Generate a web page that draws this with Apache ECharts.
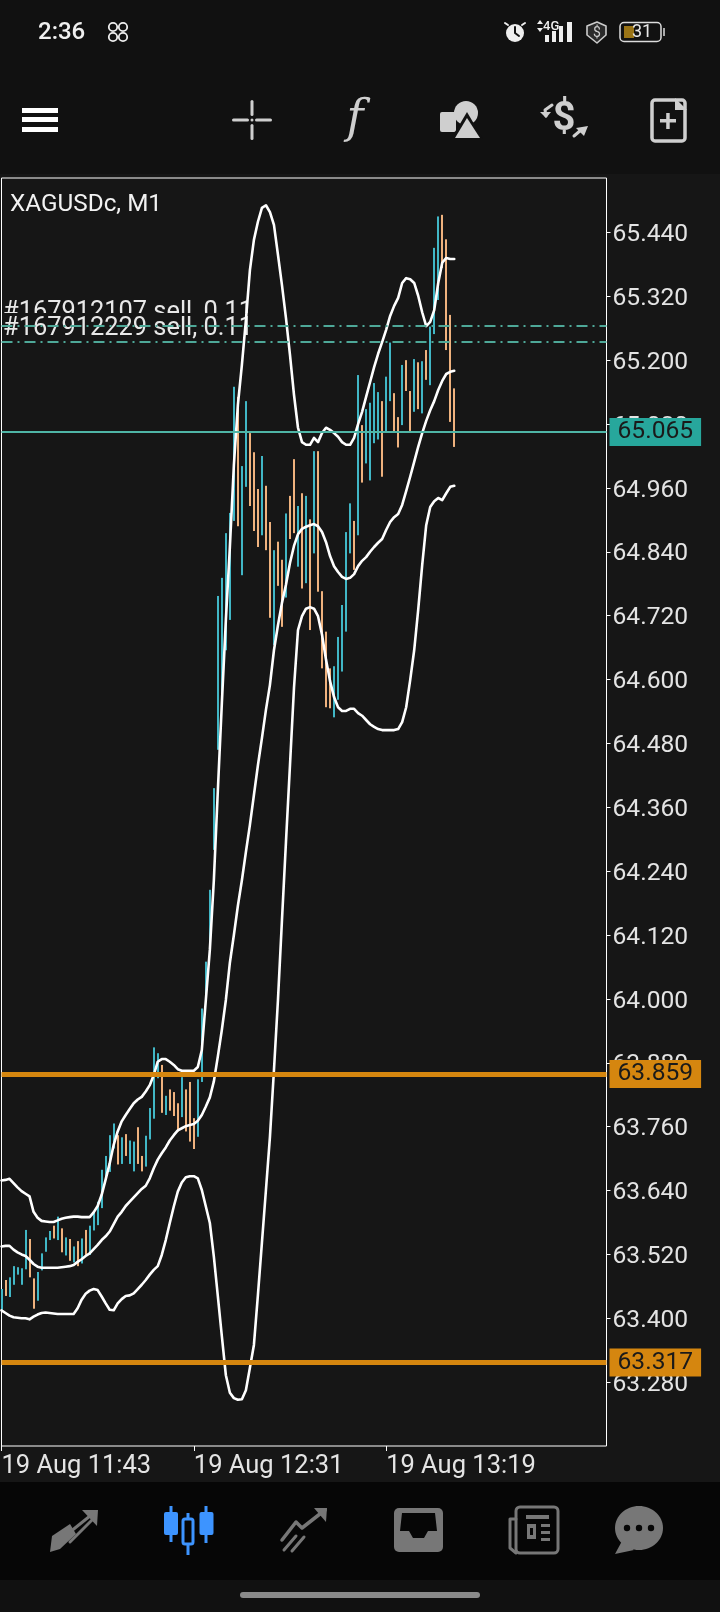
<!DOCTYPE html>
<html><head><meta charset="utf-8">
<style>html,body{margin:0;padding:0;background:#111}#c{width:720px;height:1612px}</style>
<script src="https://cdn.jsdelivr.net/npm/echarts@6/dist/echarts.min.js"></script>
</head><body><div id="c"></div>
<script>
const symbolName = 'XAGUSDc, M1';
const timeTicks = ['19 Aug 11:43', '19 Aug 12:31', '19 Aug 13:19'];
const priceTicks = [65.44,65.32,65.2,65.08,64.96,64.84,64.72,64.6,64.48,64.36,64.24,64.12,64,63.88,63.76,63.64,63.52,63.4,63.28];
const barHigh = [63.455,63.472,63.477,63.498,63.496,63.494,63.566,63.549,63.475,63.487,63.522,63.552,63.564,63.574,63.591,63.569,63.552,63.549,63.535,63.545,63.55,63.566,63.574,63.6,63.619,63.679,63.705,63.744,63.766,63.744,63.74,63.746,63.734,63.732,63.759,63.705,63.743,63.795,63.909,63.898,63.876,63.818,63.83,63.825,63.804,63.853,63.83,63.844,63.776,63.849,63.982,64.07,64.205,64.396,64.757,64.791,64.875,64.913,65.15,65.131,65.001,65.123,65.063,65.027,64.958,65.02,64.964,64.896,64.843,64.859,64.825,64.912,64.945,65.014,64.926,64.95,64.945,64.901,65.029,65.029,64.766,64.69,64.621,64.625,64.68,64.74,64.877,64.931,64.898,65.172,65.078,65.108,65.12,65.157,65.14,65.123,65.169,65.233,65.138,65.093,65.191,65.2,65.142,65.202,65.196,65.198,65.219,65.263,65.411,65.47,65.473,65.427,65.285,65.147];
const barLow = [63.416,63.442,63.44,63.463,63.482,63.463,63.492,63.477,63.418,63.433,63.49,63.525,63.547,63.55,63.547,63.524,63.518,63.508,63.505,63.498,63.503,63.518,63.519,63.565,63.575,63.607,63.66,63.675,63.719,63.689,63.69,63.705,63.69,63.676,63.69,63.676,63.685,63.736,63.775,63.851,63.786,63.782,63.79,63.78,63.751,63.778,63.751,63.732,63.718,63.741,63.844,63.998,64.092,64.28,64.468,64.567,64.655,64.712,64.898,64.888,64.796,64.962,64.926,64.879,64.849,64.871,64.843,64.716,64.665,64.776,64.699,64.754,64.864,64.875,64.812,64.771,64.781,64.693,64.837,64.765,64.621,64.548,64.546,64.529,64.562,64.615,64.69,64.837,64.806,64.871,64.97,65.006,64.974,65.044,65.051,64.981,65.066,65.123,65.066,65.036,65.078,65.142,65.067,65.103,65.108,65.1,65.163,65.153,65.249,65.313,65.373,65.219,65.084,65.037];
const fallingBars = [1,7,8,13,15,17,19,21,29,31,34,35,40,42,43,44,46,47,48,59,62,63,64,66,67,69,70,72,73,75,77,79,80,81,82,88,90,95,98,99,101,102,104,106,110,111,112,113];
const bandUpper = [63.659,63.66,63.662,63.654,63.646,63.639,63.634,63.629,63.6,63.589,63.583,63.582,63.581,63.581,63.584,63.587,63.589,63.59,63.591,63.591,63.59,63.59,63.59,63.599,63.611,63.632,63.661,63.691,63.726,63.751,63.77,63.782,63.793,63.804,63.811,63.816,63.826,63.838,63.857,63.882,63.887,63.887,63.882,63.876,63.868,63.865,63.865,63.865,63.865,63.872,63.904,63.998,64.092,64.223,64.392,64.556,64.712,64.849,65.003,65.116,65.191,65.275,65.369,65.426,65.46,65.486,65.491,65.478,65.454,65.398,65.341,65.279,65.21,65.135,65.073,65.046,65.041,65.041,65.054,65.046,65.063,65.073,65.069,65.063,65.056,65.046,65.041,65.041,65.054,65.08,65.103,65.131,65.159,65.187,65.212,65.234,65.257,65.283,65.302,65.317,65.345,65.354,65.352,65.345,65.321,65.29,65.264,65.272,65.294,65.345,65.383,65.392,65.39,65.39];
const bandMiddle = [63.535,63.536,63.536,63.529,63.524,63.52,63.517,63.51,63.502,63.497,63.495,63.495,63.495,63.495,63.495,63.496,63.497,63.498,63.5,63.506,63.511,63.517,63.522,63.53,63.538,63.547,63.554,63.563,63.577,63.591,63.6,63.611,63.619,63.627,63.635,63.643,63.649,63.663,63.682,63.698,63.71,63.721,63.734,63.744,63.753,63.757,63.761,63.763,63.765,63.771,63.782,63.798,63.815,63.845,63.892,63.942,63.998,64.068,64.12,64.175,64.223,64.276,64.327,64.383,64.439,64.49,64.543,64.59,64.655,64.702,64.744,64.778,64.819,64.851,64.873,64.883,64.887,64.89,64.892,64.888,64.877,64.858,64.832,64.813,64.802,64.793,64.789,64.791,64.798,64.813,64.823,64.83,64.84,64.849,64.857,64.864,64.881,64.896,64.905,64.911,64.928,64.954,64.981,65.009,65.037,65.063,65.086,65.106,65.123,65.144,65.161,65.174,65.178,65.18];
const bandLower = [63.415,63.41,63.405,63.402,63.401,63.4,63.4,63.398,63.403,63.407,63.41,63.411,63.41,63.409,63.408,63.408,63.408,63.408,63.408,63.419,63.435,63.446,63.452,63.455,63.453,63.441,63.428,63.416,63.415,63.428,63.436,63.442,63.443,63.447,63.455,63.463,63.472,63.482,63.491,63.498,63.519,63.547,63.579,63.61,63.638,63.655,63.665,63.667,63.667,63.663,63.641,63.61,63.579,63.516,63.441,63.366,63.293,63.26,63.25,63.247,63.248,63.265,63.307,63.35,63.444,63.542,63.641,63.741,63.866,63.998,64.148,64.295,64.439,64.584,64.693,64.719,64.733,64.736,64.733,64.719,64.684,64.637,64.597,64.567,64.548,64.541,64.541,64.545,64.545,64.537,64.532,64.524,64.516,64.511,64.507,64.505,64.505,64.505,64.505,64.507,64.52,64.548,64.599,64.655,64.731,64.815,64.89,64.924,64.935,64.941,64.937,64.95,64.962,64.964];
const orderLevels = [65.2646, 65.234];
const orderNames = ['#167912107 sell, 0.11', '#167912229 sell, 0.11'];
const bidPrice = 65.065;
const alertLevels = [63.859, 63.317];

const TEAL = '#41b7c6', PEACH = '#efb27e', TAG = '#27a79c', ORANGE = '#d5860f', ICON = '#cfcfcf', NAV = '#777777';

const slots = 152;
const categories = [];
for (let i = 0; i < slots; i++) categories.push(i % 48 === 0 && timeTicks[i / 48] ? timeTicks[i / 48] : 'm' + i);
const showTick = (idx) => idx % 48 === 0 && idx <= 96;
const fallSet = new Set(fallingBars);
const barRows = barHigh.map((h, i) => [i, barLow[i], h, fallSet.has(i) ? 1 : 0]);

const renderBar = (params, api) => {
  const top = api.coord([api.value(0), api.value(2)]);
  const bottom = api.coord([api.value(0), api.value(1)]);
  const size = api.size([1, 0])[0] / 2;
  const left = Math.round(top[0]) - size / 2 * 1;
  return {type:'rect', shape:{x:left, y:top[1], width:size, height:bottom[1]-top[1]},
    style:{fill: api.value(3) ? PEACH : TEAL}};
};

const bandSeries = (d, name) => ({type:'line', name, data:d, showSymbol:false, symbol:'none', z:4, silent:true,
  lineStyle:{color:'#fff', width:2.6, cap:'round', join:'round'}, clip:true});

const g = [];
const rect = (x,y,w,h,fill,z=-5,r=0) => g.push({type:'rect', silent:true, z, shape:{x,y,width:w,height:h,r}, style:{fill}});
const txt = (x,y,text,size,fill,extra={},z=20) => g.push({type:'text', silent:true, z, x, y, style:Object.assign({text, fill, fontSize:size, fontFamily:'Roboto', textVerticalAlign:'middle', textAlign:'left'}, extra)});
const poly = (pts,fill,z=20) => g.push({type:'polygon', silent:true, z, shape:{points:pts}, style:{fill}});
const pline = (pts,stroke,w,z=20) => g.push({type:'polyline', silent:true, z, shape:{points:pts}, style:{stroke, lineWidth:w, fill:'none', lineCap:'round', lineJoin:'round'}});
const circ = (cx,cy,r,style,z=20) => g.push({type:'circle', silent:true, z, shape:{cx,cy,r}, style});

// surfaces
rect(0,174,720,1308,'#161616',-10);
rect(0,1482,720,98,'#060606',-10);
rect(240,1592,240,6,'#8a8a8a',20,3);

// status bar
txt(38,33,'2:36',24,'#f0f0f0',{fontWeight:500});
for (const [dx,dy] of [[-5,-5],[5,-5],[-5,5],[5,5]]) circ(118+dx,32+dy,4.2,{fill:'none',stroke:'#eee',lineWidth:1.8});
circ(515,33,9,{fill:'#eee'}); pline([[515,27],[515,33],[519,36]],'#111',2);
pline([[505,23],[508,25]],'#eee',2); pline([[525,23],[522,25]],'#eee',2);
txt(543,27,'4G',13,'#eee',{fontWeight:500}); poly([[537,24],[540,20],[543,24]],'#eee'); poly([[537,28],[540,32],[543,28]],'#eee');
rect(545,35,4,7,'#eee',20); rect(552,31,4,11,'#eee',20); rect(559,26,4,16,'#eee',20); rect(567,22,5,20,'#eee',20);
poly([[597,22],[606,26],[606,35],[597,43],[587,35],[587,26]],'#2a2a2a');
pline([[597,22],[606,26],[606,35],[597,43],[587,35],[587,26],[597,22]],'#ccc',1.6);
txt(597,33,'$',14,'#ccc',{textAlign:'center'});
g.push({type:'rect',silent:true,z:20,shape:{x:620,y:22.5,width:41,height:19,r:4},style:{fill:'none',stroke:'#ddd',lineWidth:1.5}});
rect(624,26,10,12,'#9a7416',20); rect(663,28,2,8,'#aaa',20);
txt(632,32.5,'31',18,'#e8e8e8');

// toolbar
rect(22,108,36,5,'#fff',20); rect(22,117,36,5,'#fff',20); rect(22,127,36,5,'#fff',20);
rect(232,118.5,17,3,ICON,20,1.5); rect(255,118.5,17,3,ICON,20,1.5); rect(250.5,100,3,16,ICON,20,1.5); rect(250.5,124,3,16,ICON,20,1.5); circ(252,120,1.5,{fill:ICON});
txt(355,120,'f',46,ICON,{fontFamily:'DejaVu Serif',fontStyle:'italic',textAlign:'center'});
rect(440,112,16,20,ICON,20,2); circ(466,113,12,{fill:ICON});
poly([[467,112],[483,139],[451,139]],'#111',21); poly([[467,118],[480,138],[455,138]],ICON,22);
txt(564,120,'$',40,ICON,{textAlign:'center',fontWeight:700});
pline([[552,105],[545,110],[546,116]],ICON,3); poly([[540,112],[551,112],[546,118]],ICON);
pline([[574,136],[581,130]],ICON,3); poly([[576,128],[588,126],[584,136]],ICON);
g.push({type:'rect',silent:true,z:20,shape:{x:652,y:100,width:33,height:41,r:3},style:{fill:'none',stroke:ICON,lineWidth:3.5}});
poly([[675,98],[687,110],[675,110]],ICON); rect(660,119,16,3.5,ICON,20); rect(666.2,113,3.5,16,ICON,20);

// bottom nav
pline([[70,1532],[95,1512]],NAV,3); poly([[82,1510],[98,1510],[97,1526]],NAV);
poly([[50,1552],[52,1536],[70,1524],[76,1534],[60,1549]],NAV); pline([[70,1542],[94,1518]],NAV,3);
const BLUE = '#3d94ff';
rect(169.5,1506,3,36,BLUE,20); rect(164,1512,14,23,BLUE,20,2);
rect(204.5,1506,3,37,BLUE,20); rect(199.5,1512,14,23,BLUE,20,2);
rect(186.5,1513,3,42,BLUE,20);
g.push({type:'rect',silent:true,z:21,shape:{x:183,y:1519,width:10,height:25,r:2},style:{fill:'#060606',stroke:BLUE,lineWidth:3}});
pline([[282,1540],[296,1522],[302,1528],[325,1510]],NAV,3.5); poly([[314,1508],[327,1508],[326,1522]],NAV);
pline([[284,1550],[296,1536]],NAV,3); pline([[292,1551],[304,1537]],NAV,3);
g.push({type:'rect',silent:true,z:20,shape:{x:394,y:1508,width:49,height:44,r:5},style:{fill:NAV}});
poly([[402,1513],[435,1513],[437,1531],[428,1531],[424,1538],[413,1538],[409,1531],[400,1531]],'#060606',21);
g.push({type:'rect',silent:true,z:20,shape:{x:516,y:1507,width:42,height:46,r:4},style:{fill:'none',stroke:NAV,lineWidth:3}});
pline([[516,1519],[510,1519],[510,1548],[516,1553]],NAV,3);
rect(526,1515,23,4,NAV,20); rect(527,1524,9,15,NAV,20); rect(541,1524,9,3,NAV,20); rect(541,1531,9,3,NAV,20); rect(541,1538,9,3,NAV,20);
rect(530,1528,3,7,'#060606',21);
g.push({type:'ellipse',silent:true,z:20,shape:{cx:639,cy:1528,rx:24,ry:22},style:{fill:NAV}});
poly([[622,1541],[634,1550],[615,1554]],NAV);
circ(627,1528,3.2,{fill:'#060606'},21); circ(639,1528,3.2,{fill:'#060606'},21); circ(651,1528,3.2,{fill:'#060606'},21);

// chart text
txt(10,205,symbolName,24.3,'#f2f2f2',{},6);
txt(3,312.5,orderNames[0],25.4,'#e8e8e8',{},2);
rect(2,313,255,26,'#161616',2);
txt(3,328.5,orderNames[1],25.4,'#e8e8e8',{},2);

const option = {
  animation:false,
  backgroundColor:'#111111',
  textStyle:{fontFamily:'Roboto'},
  grid:{left:1.5, top:178, width:605, height:1268, show:true, outerBoundsMode:'none', backgroundColor:'#161616', borderColor:'#ffffff', borderWidth:1, z:0},
  xAxis:{type:'category', data:categories, boundaryGap:false,
    axisLine:{show:false},
    axisTick:{show:true, interval:showTick, length:5, lineStyle:{color:'#fff', width:1}},
    axisLabel:{show:true, interval:showTick, align:'left', fontSize:25.5, margin:8, color:'#e4e4e4', fontFamily:'Roboto', hideOverlap:false},
    splitLine:{show:false}},
  yAxis:{type:'value', position:'right', min:63.1601, max:65.5422, scale:true,
    axisLine:{show:false},
    axisTick:{show:true, length:4, customValues:priceTicks, lineStyle:{color:'#fff', width:1}},
    axisLabel:{show:true, customValues:priceTicks, formatter:(v)=>'{p|'+v.toFixed(3)+'}', margin:6,
      rich:{p:{fontSize:24.6, padding:[5,0,0,0], color:'#e4e4e4', fontFamily:'Roboto'}}},
    splitLine:{show:false}},
  graphic:{elements:g},
  series:[
    {type:'line', name:'orders', data:[], z:1, silent:true, symbol:'none',
      markLine:{silent:true, symbol:'none', animation:false, precision:4, label:{show:false},
        lineStyle:{color:'#4ea898', width:2, type:[11,5,2,5]},
        data:orderLevels.map(v=>({yAxis:v}))}},
    {type:'custom', name:'price', data:barRows, z:3, clip:false, silent:true, renderItem:renderBar,
      encode:{x:0, y:[1,2]}},
    bandSeries(bandUpper,'upper'), bandSeries(bandMiddle,'middle'), bandSeries(bandLower,'lower'),
    {type:'line', name:'levels', data:[], z:8, silent:true, symbol:'none',
      markLine:{silent:true, symbol:'none', animation:false, precision:4, z:8,
        label:{show:true, position:'end', fontSize:24.6, lineHeight:24, fontFamily:'Roboto', color:'#1a1a1a', padding:[2,8,2,8], distance:3},
        data:[
          {yAxis:bidPrice, lineStyle:{color:'#4fb5a6', width:2, type:'solid'}, label:{formatter:bidPrice.toFixed(3), backgroundColor:TAG}},
          {yAxis:alertLevels[0], lineStyle:{color:ORANGE, width:5, type:'solid'}, label:{formatter:alertLevels[0].toFixed(3), backgroundColor:ORANGE}},
          {yAxis:alertLevels[1], lineStyle:{color:ORANGE, width:5, type:'solid'}, label:{formatter:alertLevels[1].toFixed(3), backgroundColor:ORANGE}}
        ]}}
  ]
};
const chart = echarts.init(document.getElementById('c'), null, {renderer:'canvas', width:720, height:1612});
chart.setOption(option);
</script></body></html>
